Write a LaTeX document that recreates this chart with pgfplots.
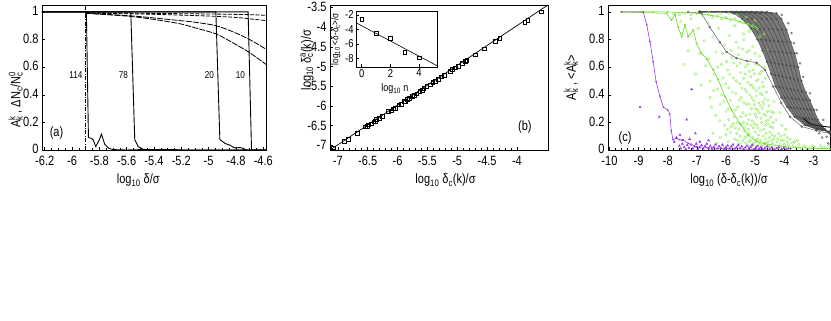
\documentclass[border=0pt]{standalone}
\usepackage{pgfplots}
\pgfplotsset{compat=1.18}
\usepackage{fontspec}
\setmainfont{Liberation Sans}[FakeStretch=0.82]
\definecolor{vio}{RGB}{150,60,235}
\definecolor{grn}{RGB}{95,220,20}
\definecolor{lgrn}{RGB}{145,235,95}
\definecolor{dgray}{RGB}{70,70,70}
\definecolor{band}{RGB}{120,120,120}

\newcommand{\sub}[1]{\textsubscript{#1}}
\newcommand{\supsub}[2]{\rlap{\textsuperscript{#1}}\textsubscript{#2}}

\pgfplotsset{
  panel/.style={
    scale only axis, anchor=south west,
    /pgf/number format/assume math mode=true,
    tick label style={font=\fontsize{13.5}{15}\selectfont},
    label style={font=\fontsize{13.5}{15}\selectfont},
    axis line style={line width=0.9pt},
    every tick/.style={black, line width=0.5pt},
    major tick length=3.5pt, minor tick length=2.2pt,
    xtick pos=bottom, ytick pos=left,
    clip=true,
  },
  gcurve/.style={dgray, line width=0.4pt, mark=o, mark size=1pt, mark options={line width=0.35pt}},
}

\begin{document}
\begin{tikzpicture}
\useasboundingbox (0,0) rectangle (831bp,-321bp);

% ---------------- (a)
\begin{axis}[panel, at={(42bp,-150bp)}, width=224bp, height=145bp,
  xticklabel style={yshift=-2.5pt},
  yticklabel style={yshift=1pt},
  xmin=-6.22, xmax=-4.58, ymin=0, ymax=1.05,
  xtick={-6.2,-6,-5.8,-5.6,-5.4,-5.2,-5,-4.8,-4.6},
  xticklabels={-6.2,-6,-5.8,-5.6,-5.4,-5.2,-5,-4.8,-4.6},
  minor x tick num=3,
  ytick={0,0.2,0.4,0.6,0.8,1},
  yticklabels={0,0.2,0.4,0.6,0.8,1},
  xlabel={log\sub{10} δ/σ},
  ylabel={A\supsub{k}{k} ,  ΔN\sub{c}/N\supsub{0}{c}},
  xlabel style={at={(axis description cs:0.43,-0.21)}, anchor=center},
  ylabel style={at={(axis description cs:-0.118,0.345)}, anchor=center},
]
  \addplot[black, line width=0.6pt, dash pattern=on 4pt off 1.5pt on 0.8pt off 1.5pt]
    coordinates {(-5.905,0) (-5.905,1.05)};
  % dashed curves
  \addplot[black, line width=0.8pt, dash pattern=on 4pt off 1.5pt, smooth]
    coordinates {(-5.9,0.995)(-5.5,0.99)(-5.0,0.985)(-4.7,0.98)(-4.58,0.975)};
  \addplot[black, line width=0.8pt, dash pattern=on 4pt off 1.5pt, smooth]
    coordinates {(-5.9,0.99)(-5.5,0.985)(-5.0,0.97)(-4.8,0.96)(-4.7,0.95)(-4.58,0.937)};
  \addplot[black, line width=0.8pt, dash pattern=on 6pt off 1.2pt, smooth]
    coordinates {(-5.9,0.99)(-5.55,0.97)(-5.24,0.94)(-5.1,0.925)(-4.945,0.90)(-4.82,0.855)(-4.70,0.80)(-4.58,0.73)};
  \addplot[black, line width=0.8pt, dash pattern=on 6pt off 1.2pt, smooth]
    coordinates {(-5.9,0.99)(-5.55,0.965)(-5.24,0.92)(-5.1,0.885)(-4.945,0.84)(-4.82,0.775)(-4.70,0.705)(-4.58,0.62)};
  % solid curves
  \addplot[black, line width=0.9pt] coordinates {
    (-6.22,1)(-5.895,1)(-5.88,0.09)(-5.86,0.085)(-5.846,0.075)(-5.826,0.025)(-5.80,0.075)
    (-5.785,0.115)(-5.76,0.04)(-5.73,0.012)(-5.70,0.003)(-5.6,0)(-5.45,0.004)(-5.2,0)(-4.58,0)};
  \addplot[black, line width=0.9pt] coordinates {
    (-6.22,1)(-5.57,1)(-5.541,0.075)(-5.516,0.025)(-5.48,0.005)(-5.4,0)(-5.3,0.004)(-5.2,0)(-4.58,0)};
  \addplot[black, line width=0.9pt] coordinates {
    (-6.22,1)(-4.947,1)(-4.918,0.077)(-4.881,0.048)(-4.86,0.04)(-4.845,0.036)(-4.82,0.02)
    (-4.808,0.015)(-4.77,0.018)(-4.747,0.012)(-4.723,0)(-4.58,0)};
  \addplot[black, line width=0.9pt] coordinates {
    (-6.22,1)(-4.711,1)(-4.686,0)(-4.58,0)};
  \begin{scope}[font=\fontsize{10}{11}\selectfont]
    \node[anchor=east, inner sep=1pt] at (axis cs:-5.915,0.54) {114};
    \node[anchor=east, inner sep=1pt] at (axis cs:-5.582,0.54) {78};
    \node[anchor=east, inner sep=1pt] at (axis cs:-4.952,0.54) {20};
    \node[anchor=east, inner sep=1pt] at (axis cs:-4.725,0.54) {10};
  \end{scope}
  \node[font=\fontsize{13.5}{15}\selectfont] at (rel axis cs:0.065,0.117) {(a)};
\end{axis}

% ---------------- (b)
\begin{axis}[panel, at={(330bp,-150bp)}, width=218bp, height=145bp,
  xticklabel style={yshift=-2.5pt},
  xmin=-7.13, xmax=-3.48, ymin=-7.12, ymax=-3.44,
  xtick={-7,-6.5,-6,-5.5,-5,-4.5,-4},
  xticklabels={-7,-6.5,-6,-5.5,-5,-4.5,-4},
  minor x tick num=4,
  ytick={-7,-6.5,-6,-5.5,-5,-4.5,-4,-3.5},
  yticklabels={-7,-6.5,-6,-5.5,-5,-4.5,-4,-3.5},
  xlabel={log\sub{10} δ\sub{c}(k)/σ},
  ylabel={log\sub{10} δ\supsub{a}{c}(k)/σ},
  xlabel style={at={(axis description cs:0.53,-0.21)}, anchor=center},
  ylabel style={at={(axis description cs:-0.105,0.62)}, anchor=center},
]
  \addplot[black, line width=0.7pt] coordinates {(-7.13,-7.12) (-3.48,-3.44)};
  \addplot[only marks, mark=square, mark size=1.9pt, mark options={black, line width=0.4pt}]
    table {
x y
-7.07 -7.06
-6.89 -6.90
-6.83 -6.84
-6.68 -6.69
-6.54 -6.53
-6.51 -6.52
-6.49 -6.48
-6.44 -6.45
-6.40 -6.40
-6.37 -6.38
-6.35 -6.34
-6.31 -6.31
-6.26 -6.27
-6.15 -6.14
-6.11 -6.12
-6.07 -6.07
-6.04 -6.05
-5.98 -5.97
-5.94 -5.95
-5.89 -5.89
-5.87 -5.88
-5.84 -5.83
-5.80 -5.81
-5.76 -5.76
-5.72 -5.72
-5.68 -5.69
-5.63 -5.63
-5.59 -5.60
-5.56 -5.55
-5.51 -5.51
-5.45 -5.46
-5.41 -5.40
-5.37 -5.37
-5.32 -5.33
-5.27 -5.26
-5.22 -5.22
-5.12 -5.13
-5.08 -5.07
-5.03 -5.03
-4.98 -4.99
-4.92 -4.92
-4.87 -4.87
-4.84 -4.85
-4.70 -4.70
-4.55 -4.55
-4.36 -4.35
-4.29 -4.29
-3.87 -3.87
-3.82 -3.82
-3.60 -3.61
};
  \node[font=\fontsize{13.5}{15}\selectfont] at (rel axis cs:0.894,0.16) {(b)};
\end{axis}

% inset
\begin{axis}[panel, at={(356bp,-67bp)}, width=81bp, height=56bp,
  axis background/.style={fill=white},
  tick label style={font=\fontsize{11.5}{12}\selectfont},
  xticklabel style={yshift=1.5pt},
  yticklabel style={xshift=1pt},
  label style={font=\fontsize{11}{12}\selectfont},
  axis line style={line width=0.7pt},
  xmin=-0.4, xmax=5.25, ymin=-9.2, ymax=-1.45,
  xtick={0,2,4}, ytick={-8,-6,-4,-2},
  yticklabels={-8,-6,-4,-2},
  xtick pos=bottom, ytick pos=left,
  xlabel={log\sub{10} n},
  ylabel={log\sub{10} <δ-δ\sub{c}>/σ},
  xlabel style={at={(axis description cs:0.48,-0.39)}, anchor=center},
  ylabel style={at={(axis description cs:-0.25,0.5)}, anchor=center, font=\fontsize{10}{11}\selectfont},
]
  \addplot[black, line width=0.6pt] coordinates {(-0.4,-3.08) (5.25,-9.02)};
  \addplot[only marks, mark=square, mark size=1.8pt, mark options={black, line width=0.4pt}]
    coordinates {(0,-2.55)(1,-4.54)(2,-5.23)(3,-7.17)(4,-7.9)};
\end{axis}

% ---------------- (c)
\begin{axis}[panel, at={(608bp,-150bp)}, width=222bp, height=145bp,
  xticklabel style={yshift=-2.5pt},
  yticklabel style={yshift=1pt},
  xmin=-10.05, xmax=-2.43, ymin=0, ymax=1.05,
  xtick={-10,-9,-8,-7,-6,-5,-4,-3},
  xticklabels={-10,-9,-8,-7,-6,-5,-4,-3},
  minor x tick num=4,
  ytick={0,0.2,0.4,0.6,0.8,1},
  yticklabels={0,0.2,0.4,0.6,0.8,1},
  xlabel={log\sub{10} (δ-δ\sub{c}(k))/σ},
  ylabel={A\supsub{k}{k} ,  <A\supsub{k}{k}>},
  xlabel style={at={(axis description cs:0.545,-0.21)}, anchor=center},
  ylabel style={at={(axis description cs:-0.167,0.5)}, anchor=center},
]
  % green scatter
  \addplot[only marks, mark=o, mark size=1.3pt, mark options={lgrn, line width=0.4pt}]
    table {
x y
-7.55 0.93
-7.45 0.62
-7.2 0.95
-7.05 0.55
-6.95 0.88
-6.85 0.47
-6.75 0.79
-6.7 0.61
-6.62 0.92
-6.55 0.38
-6.45 0.82
-6.4 0.55
-6.35 0.71
-6.3 0.44
-6.25 0.88
-6.2 0.33
-6.15 0.62
-6.1 0.52
-6.05 0.76
-6.0 0.28
-5.95 0.58
-5.9 0.45
-5.88 0.83
-5.85 0.36
-5.8 0.67
-5.75 0.52
-5.72 0.24
-5.7 0.9
-5.66 0.41
-5.62 0.61
-5.6 0.31
-5.56 0.74
-5.53 0.48
-5.5 0.56
-5.48 0.38
-5.45 0.66
-5.42 0.27
-5.4 0.52
-5.38 0.8
-5.35 0.44
-5.33 0.6
-5.3 0.33
-5.28 0.71
-5.25 0.49
-5.22 0.22
-5.2 0.57
-5.18 0.4
-5.15 0.65
-5.13 0.3
-5.1 0.47
-5.08 0.75
-5.05 0.36
-5.03 0.55
-5.0 0.26
-4.98 0.62
-4.96 0.43
-4.93 0.18
-4.9 0.51
-4.88 0.34
-4.85 0.68
-4.83 0.41
-4.8 0.23
-4.78 0.57
-4.75 0.3
-4.72 0.46
-4.7 0.15
-4.67 0.37
-4.64 0.25
-4.6 0.42
-4.57 0.19
-4.53 0.32
-4.5 0.13
-6.45 0.12
-6.3 0.05
-6.2 0.09
-6.1 0.02
-6.0 0.11
-5.92 0.06
-5.85 0.13
-5.78 0.03
-5.7 0.08
-5.63 0.12
-5.58 0.04
-5.52 0.1
-5.47 0.02
-5.42 0.07
-5.38 0.14
-5.33 0.05
-5.28 0.1
-5.24 0.03
-5.2 0.12
-5.16 0.07
-5.12 0.02
-5.08 0.09
-5.04 0.05
-5.0 0.13
-4.96 0.03
-4.92 0.08
-4.88 0.11
-4.84 0.04
-4.8 0.07
-4.76 0.02
-4.72 0.1
-4.68 0.05
-4.64 0.08
-4.6 0.03
-4.55 0.06
-4.5 0.09
-4.45 0.02
-4.4 0.05
-4.35 0.08
-4.3 0.03
-4.25 0.06
-4.2 0.02
-4.15 0.04
-4.1 0.07
-4.05 0.02
-4.0 0.04
-3.95 0.02
-3.85 0.04
-3.78 0.01
-3.7 0.03
-3.6 0.02
-3.5 0.04
-3.42 0.01
-3.33 0.03
-3.25 0.02
-3.15 0.01
-3.05 0.03
-2.95 0.02
-2.85 0.01
-2.75 0.03
-2.65 0.02
-2.55 0.01
-2.48 0.03
-7.8 0.99
-7.6 0.98
-7.4 0.99
-7.2 0.98
-7.0 0.99
-6.8 0.97
-6.6 0.98
-6.45 0.96
-6.3 0.97
-6.15 0.95
-6.0 0.96
-5.85 0.94
-5.7 0.95
-5.55 0.93
-5.4 0.92
-5.25 0.91
-5.1 0.9
-4.95 0.88
-5.9 0.99
-5.6 0.98
-5.3 0.96
-5.0 0.94
-6.6 0.995
-6.2 0.99
-4.45 0.28
-4.4 0.16
-4.35 0.35
-4.28 0.22
-4.2 0.12
-4.15 0.27
-4.08 0.18
-4.0 0.11
-3.95 0.15
-3.9 0.09
-4.6 0.72
-4.7 0.84
-6.05 0.18
-5.95 0.15
-5.9 0.22
-5.82 0.17
-5.75 0.19
-5.68 0.16
-5.6 0.2
-5.55 0.15
-5.5 0.24
-5.45 0.18
-5.4 0.2
-5.36 0.16
-5.32 0.25
-5.27 0.19
-5.23 0.15
-5.18 0.26
-5.14 0.18
-5.1 0.21
-5.06 0.16
-5.02 0.19
-4.99 0.3
-4.95 0.24
-4.91 0.16
-4.87 0.27
-4.82 0.14
-4.78 0.2
-4.74 0.35
-4.7 0.26
-4.66 0.18
-4.62 0.12
-4.58 0.28
-4.54 0.22
-4.48 0.17
-4.42 0.11
-4.38 0.2
-5.6 0.07
-5.5 0.05
-5.35 0.09
-5.22 0.06
-5.1 0.04
-4.98 0.07
-4.86 0.06
-4.74 0.04
-4.62 0.05
-4.52 0.03
-4.43 0.07
-4.32 0.1
-4.22 0.08
-4.12 0.1
-4.03 0.07
-3.9 0.06
-3.8 0.08
-3.72 0.05
-3.65 0.06
-3.55 0.07
-5.15 0.53
-5.05 0.45
-4.95 0.5
-4.85 0.55
-4.75 0.49
-4.68 0.6
-4.65 0.52
-5.2 0.72
-5.0 0.7
-4.9 0.62
-6.35 0.25
-6.55 0.5
-6.9 0.7
-7.3 0.72
-6.15 0.4
-5.65 0.78
-5.4 0.84
-5.2 0.86
-4.85 0.82
-6.6 0.66
-6.5 0.31
-6.42 0.43
-6.28 0.6
-6.22 0.21
-6.12 0.7
-6.08 0.35
-6.02 0.48
-5.98 0.64
-5.93 0.3
-5.87 0.55
-5.83 0.72
-5.78 0.42
-5.73 0.63
-5.68 0.29
-5.64 0.5
-5.58 0.69
-5.54 0.36
-5.51 0.63
-5.46 0.45
-5.43 0.73
-5.39 0.34
-5.34 0.55
-5.29 0.42
-5.26 0.62
-5.21 0.33
-5.17 0.47
-5.12 0.38
-5.07 0.58
-5.02 0.33
-4.97 0.39
-4.92 0.29
-4.86 0.45
-4.81 0.32
-4.76 0.4
-4.69 0.33
-4.63 0.21
-4.56 0.36
-4.47 0.24
-4.37 0.27
};
  % gray band
  \addplot[draw=none, fill=band] coordinates {
    (-6.0,1)(-5.75,0.99)(-5.45,0.95)(-5.15,0.88)(-4.92,0.80)(-4.75,0.72)(-4.6,0.64)(-4.45,0.55)
    (-4.3,0.46)(-4.1,0.38)(-3.9,0.31)(-3.65,0.24)(-3.3,0.18)(-2.9,0.15)(-2.43,0.135)
    (-2.43,0.12)(-2.49,0.13)(-2.6,0.15)(-2.72,0.18)(-2.85,0.22)(-2.98,0.29)(-3.12,0.36)
    (-3.27,0.42)(-3.41,0.5)(-3.52,0.6)(-3.64,0.70)(-3.78,0.78)(-3.92,0.87)(-4.1,0.95)(-4.27,0.99)(-4.6,1)} --cycle;
  % gray curves
  \addplot[gcurve] coordinates {(-6.9,1)(-6.0,1)(-5.75,0.99)(-5.45,0.95)(-5.15,0.88)(-4.92,0.80)(-4.75,0.72)(-4.6,0.64)(-4.45,0.55)(-4.3,0.46)(-4.1,0.38)(-3.9,0.31)(-3.65,0.24)(-3.3,0.18)(-2.9,0.15)(-2.43,0.135)};
  \addplot[gcurve] coordinates {(-6.9,1)(-5.825,1)(-5.565,0.99)(-5.281,0.95)(-4.996,0.879)(-4.778,0.798)(-4.611,0.718)(-4.465,0.635)(-4.32,0.544)(-4.171,0.455)(-3.978,0.378)(-3.785,0.308)(-3.55,0.238)(-3.228,0.18)(-2.863,0.15)(-2.43,0.133)};
  \addplot[gcurve] coordinates {(-6.9,1)(-5.65,1)(-5.38,0.99)(-5.113,0.95)(-4.843,0.878)(-4.635,0.795)(-4.473,0.715)(-4.33,0.63)(-4.19,0.538)(-4.043,0.45)(-3.855,0.375)(-3.67,0.305)(-3.45,0.235)(-3.155,0.18)(-2.825,0.15)(-2.43,0.131)};
  \addplot[gcurve] coordinates {(-6.9,1)(-5.475,1)(-5.195,0.99)(-4.944,0.95)(-4.689,0.876)(-4.493,0.793)(-4.334,0.713)(-4.195,0.625)(-4.06,0.531)(-3.914,0.445)(-3.733,0.373)(-3.555,0.303)(-3.35,0.233)(-3.083,0.18)(-2.788,0.15)(-2.43,0.129)};
  \addplot[gcurve] coordinates {(-6.9,1)(-5.3,1)(-5.01,0.99)(-4.775,0.95)(-4.535,0.875)(-4.35,0.79)(-4.195,0.71)(-4.06,0.62)(-3.93,0.525)(-3.785,0.44)(-3.61,0.37)(-3.44,0.30)(-3.25,0.23)(-3.01,0.18)(-2.75,0.15)(-2.43,0.128)};
  \addplot[gcurve] coordinates {(-6.9,1)(-5.125,1)(-4.825,0.99)(-4.606,0.95)(-4.381,0.874)(-4.208,0.788)(-4.056,0.708)(-3.925,0.615)(-3.80,0.519)(-3.656,0.435)(-3.488,0.368)(-3.325,0.298)(-3.15,0.228)(-2.938,0.18)(-2.713,0.15)(-2.43,0.126)};
  \addplot[gcurve] coordinates {(-6.9,1)(-4.95,1)(-4.64,0.99)(-4.438,0.95)(-4.228,0.873)(-4.065,0.785)(-3.918,0.705)(-3.79,0.61)(-3.67,0.513)(-3.528,0.43)(-3.365,0.365)(-3.21,0.295)(-3.05,0.225)(-2.865,0.18)(-2.675,0.15)(-2.43,0.124)};
  \addplot[gcurve] coordinates {(-6.9,1)(-4.775,1)(-4.455,0.99)(-4.269,0.95)(-4.074,0.871)(-3.923,0.783)(-3.779,0.703)(-3.655,0.605)(-3.54,0.506)(-3.399,0.425)(-3.243,0.363)(-3.095,0.293)(-2.95,0.223)(-2.793,0.18)(-2.638,0.15)(-2.43,0.122)};
  \addplot[gcurve] coordinates {(-6.9,1)(-4.6,1)(-4.27,0.99)(-4.1,0.95)(-3.92,0.87)(-3.78,0.78)(-3.64,0.70)(-3.52,0.6)(-3.41,0.5)(-3.27,0.42)(-3.12,0.36)(-2.98,0.29)(-2.85,0.22)(-2.72,0.18)(-2.6,0.15)(-2.49,0.13)(-2.43,0.12)};
  % gray curve with plateau
  \addplot[gcurve] coordinates {(-7.3,1)(-6.84,0.99)(-6.56,0.89)(-6.21,0.78)(-5.98,0.71)(-5.64,0.665)(-5.29,0.645)(-4.95,0.632)(-4.66,0.58)(-4.38,0.46)(-4.1,0.34)(-3.8,0.24)(-3.4,0.17)(-2.9,0.14)(-2.43,0.12)};
  % gray outliers
  \addplot[only marks, mark=o, mark size=1pt, mark options={dgray, line width=0.35pt}]
    coordinates {(-4.09,0.978)(-3.86,0.918)(-3.75,0.846)(-3.67,0.773)(-3.56,0.70)(-3.46,0.628)(-3.35,0.53)(-3.12,0.41)(-2.89,0.29)(-2.66,0.217)(-2.55,0.096)(-2.49,0.048)(-2.8,0.12)(-2.7,0.09)};
  % dark curve at lower right
  \addplot[black, line width=0.9pt] coordinates {(-3.35,0.23)(-3.12,0.19)(-2.8,0.175)(-2.43,0.165)};
  % green lines
  \addplot[grn, line width=0.5pt, mark=*, mark size=0.5pt] coordinates {
    (-9.6,1)(-8.5,1)(-8.0,1)(-7.5,0.995)(-7,0.99)(-6.5,0.975)(-6,0.955)(-5.5,0.93)(-5.0,0.89)(-4.9,0.88)};
  \addplot[grn, line width=0.6pt, mark=*, mark size=0.5pt] coordinates {
    (-9.6,1)(-8.04,0.99)(-7.87,0.94)(-7.75,0.98)(-7.64,0.89)(-7.52,0.82)(-7.41,0.906)(-7.30,0.82)
    (-7.12,0.87)(-7.01,0.77)(-6.84,0.70)(-6.66,0.66)(-6.44,0.58)(-6.27,0.51)(-6.04,0.39)
    (-5.81,0.29)(-5.52,0.19)(-5.24,0.109)(-4.95,0.06)(-4.66,0.045)(-3.98,0.024)(-3.06,0.012)(-2.43,0.01)};
  % purple scatter
  \addplot[only marks, mark=triangle*, mark size=1.2pt, mark options={vio}]
    table {
x y
-8.95 0.31
-8.29 0.24
-7.18 0.44
-7.35 0.22
-7.58 0.11
-7.7 0.09
-7.78 0.06
-7.5 0.07
-7.25 0.08
-6.9 0.06
-6.6 0.07
-7.05 0.12
-7.6 0.03
-7.55 0.01
-7.5 0.045
-7.44 0.02
-7.38 0.005
-7.33 0.035
-7.27 0.015
-7.2 0.04
-7.14 0.01
-7.08 0.025
-7.02 0.045
-6.96 0.005
-6.9 0.02
-6.84 0.035
-6.78 0.01
-6.72 0.028
-6.66 0.045
-6.6 0.012
-6.54 0.03
-6.48 0.005
-6.42 0.022
-6.36 0.04
-6.3 0.01
-6.24 0.027
-6.18 0.015
-6.12 0.038
-6.06 0.005
-6.0 0.02
-5.94 0.032
-5.88 0.01
-5.82 0.025
-5.76 0.04
-5.7 0.008
-5.64 0.02
-5.58 0.034
-5.52 0.012
-5.46 0.026
-5.4 0.005
-5.34 0.018
-5.28 0.03
-5.22 0.01
-5.16 0.022
-5.1 0.036
-5.04 0.006
-4.98 0.016
-4.92 0.028
-4.86 0.01
-4.8 0.02
-4.74 0.005
-4.66 0.015
-4.58 0.025
-4.5 0.008
-4.42 0.018
-4.34 0.005
-4.26 0.012
-4.18 0.02
-4.1 0.006
-4.02 0.014
-3.94 0.004
-3.86 0.01
};
  % purple line
  \addplot[vio, line width=0.6pt, mark=*, mark size=0.5pt] coordinates {
    (-9.58,1)(-8.84,1)(-8.72,0.906)(-8.61,0.785)(-8.5,0.64)(-8.4,0.495)(-8.27,0.39)(-8.15,0.31)
    (-8.0,0.29)(-7.93,0.26)(-7.88,0.14)(-7.82,0.075)(-7.69,0.085)(-7.6,0.075)(-7.47,0.072)
    (-7.3,0.048)(-7.01,0.024)(-6.5,0.015)(-6,0.01)(-5,0.005)(-4.5,0.0)};
  \node[font=\fontsize{13.5}{15}\selectfont] at (rel axis cs:0.077,0.083) {(c)};
\end{axis}
\end{tikzpicture}
\end{document}
